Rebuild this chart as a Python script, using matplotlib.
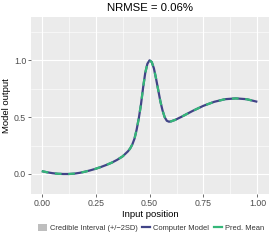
import matplotlib
matplotlib.use("Agg")
import matplotlib.pyplot as plt
from matplotlib.patches import Patch
from matplotlib.lines import Line2D

# values
x = [0.000, 0.025, 0.050, 0.075, 0.100, 0.125, 0.150, 0.175, 0.200, 0.225,
     0.250, 0.275, 0.300, 0.325, 0.350, 0.375, 0.400, 0.410, 0.420, 0.430,
     0.440, 0.450, 0.460, 0.470, 0.480, 0.490, 0.500, 0.510, 0.520, 0.530,
     0.540, 0.550, 0.560, 0.570, 0.580, 0.590, 0.600, 0.620, 0.650, 0.700,
     0.750, 0.800, 0.850, 0.900, 0.950, 1.000]
model = [0.025, 0.015, 0.007, 0.002, 0.000, 0.000, 0.003, 0.010, 0.020, 0.032,
         0.046, 0.062, 0.080, 0.100, 0.125, 0.155, 0.200, 0.225, 0.260, 0.310,
         0.390, 0.490, 0.610, 0.760, 0.890, 0.970, 1.000, 0.985, 0.930, 0.840,
         0.740, 0.640, 0.560, 0.500, 0.468, 0.460, 0.463, 0.477, 0.505, 0.555,
         0.600, 0.635, 0.658, 0.665, 0.658, 0.635]
pred_mean = model  # prediction sits on top of the model curve
title = "NRMSE = 0.06%"

plt.rcParams['font.family'] = ['Liberation Sans', 'DejaVu Sans']

blue = "#414487"
green = "#35B779"

fig = plt.figure(figsize=(2.74, 2.4), dpi=100)
ax = fig.add_axes([31 / 274, 1 - 194 / 240, 238 / 274, 177 / 240])
ax.set_facecolor("#EBEBEB")

ax.plot(x, model, color=blue, lw=1.6, solid_capstyle="butt")
ax.plot(x, pred_mean, color=green, lw=1.6, dashes=(3, 3))

ax.set_xlim(-0.05, 1.054)
ax.set_ylim(-0.176, 1.381)
ax.set_xticks([0, 0.25, 0.5, 0.75, 1.0])
ax.set_xticklabels(["0.00", "0.25", "0.50", "0.75", "1.00"])
ax.set_yticks([0.0, 0.5, 1.0])
ax.set_yticklabels(["0.0", "0.5", "1.0"])
ax.set_xticks([0.125, 0.375, 0.625, 0.875], minor=True)
ax.set_yticks([0.25, 0.75, 1.25], minor=True)
ax.grid(which="major", color="white", lw=0.8)
ax.grid(which="minor", color="white", lw=0.4)
ax.set_axisbelow(True)
for s in ax.spines.values():
    s.set_visible(False)
ax.tick_params(which="major", length=2, width=0.5, color="#333333",
               labelsize=6.3, labelcolor="#4D4D4D", pad=1.5)
ax.tick_params(which="minor", length=0)

ax.set_xlabel("Input position", fontsize=6.8, labelpad=1.5)
ax.set_ylabel("Model output", fontsize=6.8, labelpad=2)
ax.set_title(title, fontsize=8.2, pad=4)

handles = [Patch(facecolor="#BEBEBE", edgecolor="none"),
           Line2D([], [], color=blue, lw=1.6),
           Line2D([], [], color=green, lw=1.6)]
labels = ["Credible Interval (+/\u22122SD)", "Computer Model", "Pred. Mean"]
fig.legend(handles, labels, loc="center", bbox_to_anchor=(0.552, 1 - 228 / 240),
           ncol=3, frameon=False, fontsize=5.4, handlelength=1.1,
           handleheight=1.0, handletextpad=0.4, columnspacing=0.6,
           labelcolor="#333333")

fig.savefig("out.png", dpi=100)
